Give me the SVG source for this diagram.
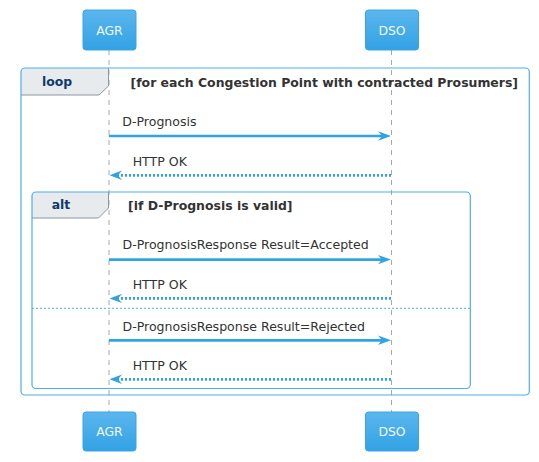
<svg xmlns="http://www.w3.org/2000/svg" width="539" height="462" viewBox="0 0 539 462">
<defs>
<linearGradient id="pg" x1="0" y1="0" x2="0" y2="1">
<stop offset="0" stop-color="#5BB6EE"/>
<stop offset="1" stop-color="#32A2E5"/>
</linearGradient>
<style>
.t{font-family:"DejaVu Sans",sans-serif;font-size:12.55px;fill:#333333}
.pt{font-family:"DejaVu Sans",sans-serif;font-size:12.4px;fill:#F2F9FF;text-anchor:middle}
.b{font-weight:bold;font-size:12.45px}
.tab{font-family:"DejaVu Sans",sans-serif;font-size:12.4px;font-weight:bold;fill:#0E3A6C;text-anchor:middle}
.box{fill:url(#pg);stroke:#3AA5E6;stroke-width:1}
.life{stroke:#A8A8A8;stroke-width:1;stroke-dasharray:5,5}
.frame{fill:none;stroke:#4EAEEA;stroke-width:1.2}
.tabbg{fill:#E8EBEE}
.tabedge{fill:none;stroke:#8B97A2;stroke-width:1}
.sol{stroke:#2FA3E5;stroke-width:2.7}
.dot{stroke:#2FA3E5;stroke-width:2.7;stroke-dasharray:2,2}
.head{fill:#2FA3E5}
.div{stroke:#4EAEEA;stroke-width:1;stroke-dasharray:2,2}
</style>
</defs>
<g id="lifelines">
<line class="life" x1="109" y1="50" x2="109" y2="412"/>
<line class="life" x1="391.5" y1="50" x2="391.5" y2="412"/>
</g>
<g id="loop">
<path class="tabbg" d="M21,95 L21,72 Q21,68 25,68 L108.5,68 L108.5,86 L99,95 Z"/>
<path class="tabedge" d="M108.5,68 L108.5,86 L99,95 L21,95"/>
<rect class="frame" x="21" y="68" width="508.3" height="327" rx="4"/>
<text class="tab" x="57" y="86">loop</text>
<text class="t b" x="130.5" y="87">[for each Congestion Point with contracted Prosumers]</text>
</g>
<g id="alt">
<path class="tabbg" d="M32,218 L32,196 Q32,192 36,192 L108.5,192 L108.5,208 L98.5,218 Z"/>
<path class="tabedge" d="M108.5,192 L108.5,208 L98.5,218 L32,218"/>
<rect class="frame" x="32" y="192" width="438.3" height="196.5" rx="4"/>
<text class="tab" x="61" y="209">alt</text>
<text class="t b" x="128" y="210">[if D-Prognosis is valid]</text>
<line class="div" x1="32" y1="308.3" x2="470.3" y2="308.3"/>
</g>
<g id="AGR">
<rect class="box" x="83" y="10" width="53" height="40" rx="3"/>
<text class="pt" x="109.5" y="34.5">AGR</text>
</g>
<g id="DSO">
<rect class="box" x="365.5" y="10" width="53" height="40" rx="3"/>
<text class="pt" x="392" y="34.5">DSO</text>
</g>
<g id="AGR-bottom">
<rect class="box" x="83" y="412" width="53" height="39" rx="3"/>
<text class="pt" x="109.5" y="436">AGR</text>
</g>
<g id="DSO-bottom">
<rect class="box" x="365.5" y="412" width="53" height="39" rx="3"/>
<text class="pt" x="392" y="436">DSO</text>
</g>
<g id="connectors">
<line class="sol" x1="109" y1="136" x2="386" y2="136"/>
<polygon class="head" points="391,136 378,131.3 382,136 378,140.7"/>
<text class="t" x="122.3" y="126">D-Prognosis</text>

<line class="dot" x1="391" y1="175.3" x2="114" y2="175.3"/>
<polygon class="head" points="109.5,175.3 122,170.6 118,175.3 122,180"/>
<text class="t" x="132.7" y="165.5">HTTP OK</text>

<line class="sol" x1="109" y1="259.6" x2="386" y2="259.6"/>
<polygon class="head" points="391,259.6 378,254.9 382,259.6 378,264.3"/>
<text class="t" x="122.5" y="249">D-PrognosisResponse Result=Accepted</text>

<line class="dot" x1="391" y1="298.4" x2="114" y2="298.4"/>
<polygon class="head" points="109.5,298.4 122,293.7 118,298.4 122,303.1"/>
<text class="t" x="132.7" y="288.5">HTTP OK</text>

<line class="sol" x1="109" y1="340.3" x2="386" y2="340.3"/>
<polygon class="head" points="391,340.3 378,335.6 382,340.3 378,345"/>
<text class="t" x="122.5" y="330.5">D-PrognosisResponse Result=Rejected</text>

<line class="dot" x1="391" y1="379.3" x2="114" y2="379.3"/>
<polygon class="head" points="109.5,379.3 122,374.6 118,379.3 122,384"/>
<text class="t" x="132.7" y="369.5">HTTP OK</text>
</g>
</svg>
